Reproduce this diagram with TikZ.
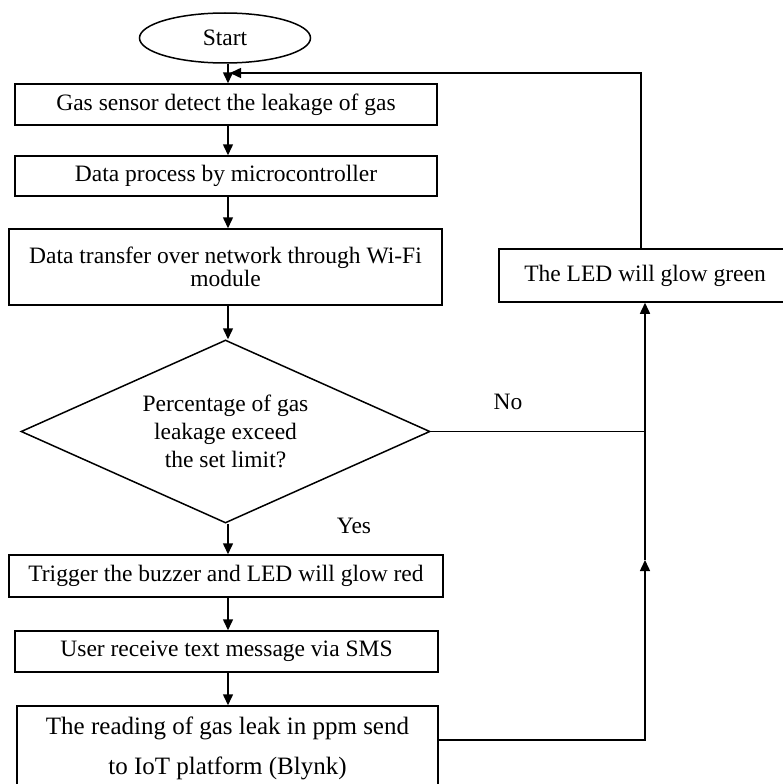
\documentclass[tikz,border=0pt]{standalone}
\usepackage{fontspec}
\setmainfont{Liberation Serif}
\usetikzlibrary{shapes.geometric,arrows.meta}
\begin{document}
\begin{tikzpicture}[x=1pt,y=-1pt,line width=1.5pt,
  txt/.style={font=\fontsize{23.5}{23.5}\selectfont},
  box/.style={draw,rectangle,inner sep=0pt,align=center,txt},
  arr/.style={-{Triangle[length=11pt,width=10pt]}}]
\useasboundingbox (0,0) rectangle (782,784);
% nodes
\node[draw,ellipse,inner sep=0pt,minimum width=171pt,minimum height=50pt,txt] (start) at (225,38) {Start};
\node[box,minimum width=422pt,minimum height=41pt] (b1) at (226,104.5) {Gas sensor detect the leakage of gas};
\node[box,minimum width=422pt,minimum height=40pt] (b2) at (226,176) {Data process by microcontroller};
\node[box,minimum width=433pt,minimum height=76pt] (b3) at (225.5,267) {Data transfer over network through Wi-Fi\\module};
\node[draw,diamond,aspect=2.2,inner sep=0pt,minimum width=409pt,minimum height=183pt,align=center,font=\fontsize{23.5}{28}\selectfont] (dec) at (225.5,431.5) {Percentage of gas\\leakage exceed\\the set limit?};
\node[box,minimum width=434pt,minimum height=42pt] (trig) at (226,576) {Trigger the buzzer and LED will glow red};
\node[box,minimum width=423pt,minimum height=41pt] (user) at (226.5,651.5) {User receive text message via SMS};
\node[box,minimum width=421pt,minimum height=84pt,font=\fontsize{25}{40}\selectfont] (read) at (227.5,748) {The reading of gas leak in ppm send\\to IoT platform (Blynk)};
\node[box,minimum width=292pt,minimum height=53pt] (green) at (645,275.5) {The LED will glow green};
\node[txt] (no) at (508,402) {No};
\node[txt] (yes) at (354,526) {Yes};
% helper coordinates
\coordinate (col) at (228,0);
\coordinate (up) at (645,0);
\coordinate (fx) at (641,0);
\coordinate (topy) at (0,73);
\coordinate (lowy) at (0,740);
\coordinate (mid) at (645,560);
\coordinate (fbend) at (230,73);
% connectors
\draw[arr] (start.south -| col) -- (b1.north -| col);
\draw[arr] (b1.south -| col) -- (b2.north -| col);
\draw[arr] (b2.south -| col) -- (b3.north -| col);
\draw[arr] (b3.south -| col) -- (dec.north -| col);
\draw[arr] (dec.south -| col) -- (trig.north -| col);
\draw[arr] (trig.south -| col) -- (user.north -| col);
\draw[arr] (user.south -| col) -- (read.north -| col);
\draw (dec.east) -- (dec.east -| up);
\draw[arr] (read.east |- lowy) -- (up |- lowy) -- (mid);
\draw[arr] (mid) -- (green.south -| up);
\draw[arr] (green.north -| fx) -- (fx |- topy) -- (fbend);
\end{tikzpicture}
\end{document}
